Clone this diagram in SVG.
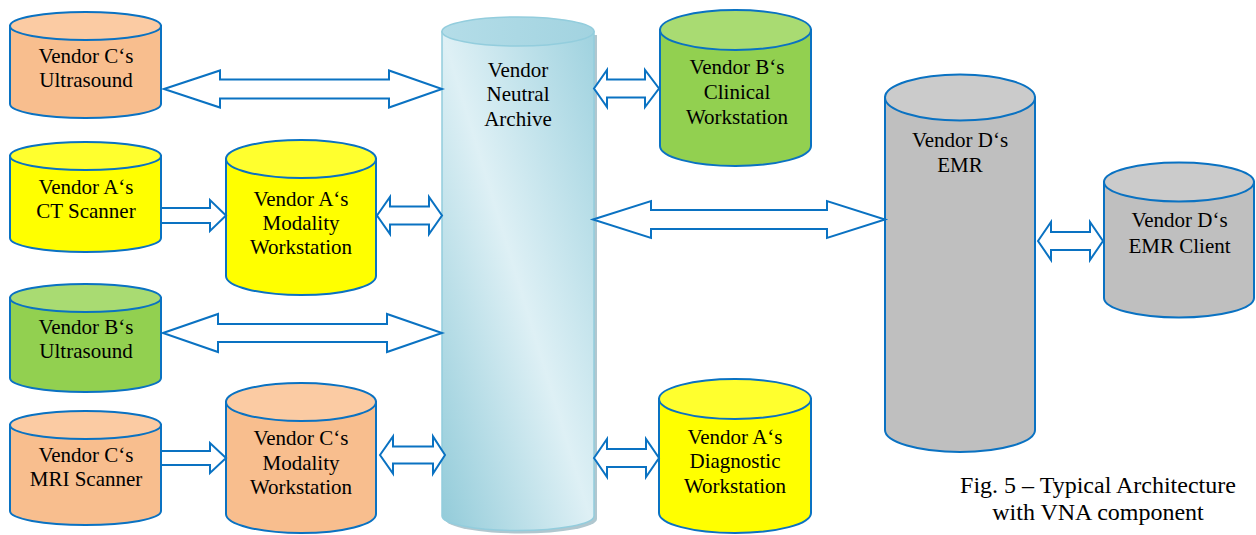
<svg xmlns="http://www.w3.org/2000/svg" width="1256" height="535" viewBox="0 0 1256 535" font-family="'Liberation Serif', 'Times New Roman', serif">
<defs>
<linearGradient id="vnaG" x1="1" y1="0" x2="0" y2="1">
<stop offset="0" stop-color="#9fd2df"/>
<stop offset="0.5" stop-color="#def0f5"/>
<stop offset="1" stop-color="#92cbd9"/>
</linearGradient>
<linearGradient id="vnaTop" x1="0" y1="0" x2="1" y2="0">
<stop offset="0" stop-color="#b4dde8"/>
<stop offset="1" stop-color="#a2d3e0"/>
</linearGradient>
<style>
.st{stroke:#0a72c2;stroke-width:2}
.orB{fill:#f8be8e}.orT{fill:#fbcba3}
.yeB{fill:#ffff00}.yeT{fill:#ffff2e}
.grB{fill:#92d050}.grT{fill:#a9db72}
.gyB{fill:#bfbfbf}.gyT{fill:#cbcbcb}
.arr{fill:#ffffff;stroke:#0a72c2;stroke-width:2;stroke-linejoin:miter}
.n{font-family:'Liberation Serif','Times New Roman',serif;font-size:21px;fill:#000000;text-anchor:middle}
.cap{font-family:'Liberation Serif','Times New Roman',serif;font-size:24px;fill:#000000;text-anchor:middle}
</style>
</defs>
<rect width="1256" height="535" fill="#ffffff"/>

<g id="vna">
<path d="M445 35 V519 A76 14.5 0 0 0 597 519 V35 Z" fill="#9cb9c3" opacity="0.8"/>
<path d="M442 31.5 V516 A76 14.5 0 0 0 594 516 V31.5 Z" fill="url(#vnaG)" stroke="#93cddd" stroke-width="1.5"/>
<ellipse cx="518" cy="31.5" rx="76" ry="14.5" fill="url(#vnaTop)" stroke="#93cddd" stroke-width="1.5"/>
<text class="n" x="518" y="77">Vendor</text>
<text class="n" x="518" y="101">Neutral</text>
<text class="n" x="518" y="126">Archive</text>
</g>

<g id="c-ultrasound">
<path class="st orB" d="M10 26 V104 A75.5 14 0 0 0 161 104 V26 Z"/>
<ellipse class="st orT" cx="85.5" cy="26" rx="75.5" ry="14"/>
<text class="n" x="86" y="63">Vendor C&#8216;s</text>
<text class="n" x="86" y="87">Ultrasound</text>
</g>

<g id="a-ct">
<path class="st yeB" d="M10 156 V238 A75.5 14 0 0 0 161 238 V156 Z"/>
<ellipse class="st yeT" cx="85.5" cy="156" rx="75.5" ry="14"/>
<text class="n" x="86" y="194">Vendor A&#8216;s</text>
<text class="n" x="86" y="218">CT Scanner</text>
</g>

<g id="a-modality">
<path class="st yeB" d="M226 159 V276 A75 19 0 0 0 376 276 V159 Z"/>
<ellipse class="st yeT" cx="301" cy="159" rx="75" ry="19"/>
<text class="n" x="301" y="206">Vendor A&#8216;s</text>
<text class="n" x="301" y="230">Modality</text>
<text class="n" x="301" y="254">Workstation</text>
</g>

<g id="b-ultrasound">
<path class="st grB" d="M10 298 V378 A75.5 14 0 0 0 161 378 V298 Z"/>
<ellipse class="st grT" cx="85.5" cy="298" rx="75.5" ry="14"/>
<text class="n" x="86" y="334">Vendor B&#8216;s</text>
<text class="n" x="86" y="358">Ultrasound</text>
</g>

<g id="c-mri">
<path class="st orB" d="M10 425 V511 A75.5 14 0 0 0 161 511 V425 Z"/>
<ellipse class="st orT" cx="85.5" cy="425" rx="75.5" ry="14"/>
<text class="n" x="86" y="462">Vendor C&#8216;s</text>
<text class="n" x="86" y="486">MRI Scanner</text>
</g>

<g id="c-modality">
<path class="st orB" d="M226 402 V514 A75 19 0 0 0 376 514 V402 Z"/>
<ellipse class="st orT" cx="301" cy="402" rx="75" ry="19"/>
<text class="n" x="301" y="445">Vendor C&#8216;s</text>
<text class="n" x="301" y="470">Modality</text>
<text class="n" x="301" y="494">Workstation</text>
</g>

<g id="b-clinical">
<path class="st grB" d="M660 30 V146 A75.5 20 0 0 0 811 146 V30 Z"/>
<ellipse class="st grT" cx="735.5" cy="30" rx="75.5" ry="20"/>
<text class="n" x="737" y="74">Vendor B&#8216;s</text>
<text class="n" x="737" y="99">Clinical</text>
<text class="n" x="737" y="124">Workstation</text>
</g>

<g id="a-diagnostic">
<path class="st yeB" d="M659 399 V513 A76 20 0 0 0 811 513 V399 Z"/>
<ellipse class="st yeT" cx="735" cy="399" rx="76" ry="20"/>
<text class="n" x="735" y="444">Vendor A&#8216;s</text>
<text class="n" x="735" y="468">Diagnostic</text>
<text class="n" x="735" y="493">Workstation</text>
</g>

<g id="d-emr">
<path class="st gyB" d="M885 97.5 V430 A75 22 0 0 0 1035 430 V97.5 Z"/>
<ellipse class="st gyT" cx="960" cy="97.5" rx="75" ry="23"/>
<text class="n" x="960" y="147">Vendor D&#8216;s</text>
<text class="n" x="960" y="172">EMR</text>
</g>

<g id="d-emr-client">
<path class="st gyB" d="M1104 182 V298 A75 19.5 0 0 0 1254 298 V182 Z"/>
<ellipse class="st gyT" cx="1179" cy="182" rx="75" ry="19.5"/>
<text class="n" x="1179.5" y="227">Vendor D&#8216;s</text>
<text class="n" x="1179.5" y="253">EMR Client</text>
</g>

<g id="connectors">
<polygon class="arr" points="164,89 220,70.5 220,79.5 389,79.5 389,70.5 442,89 389,107.5 389,98.5 220,98.5 220,107.5"/>
<polygon class="arr" points="161,208 210,208 210,200 226,215.5 210,231 210,223 161,223"/>
<polygon class="arr" points="377,215.5 390,197 390,206.5 429,206.5 429,197 442,215.5 429,234 429,224.5 390,224.5 390,234"/>
<polygon class="arr" points="163,333 218,314 218,324 387,324 387,314 442,333 387,352 387,342 218,342 218,352"/>
<polygon class="arr" points="161,451 210,451 210,443 226,458 210,473 210,465 161,465"/>
<polygon class="arr" points="380,455 393,436.5 393,446.5 433,446.5 433,436.5 445,455 433,473.5 433,463.5 393,463.5 393,473.5"/>
<polygon class="arr" points="594,88.5 607,70 607,79.5 645,79.5 645,70 659,88.5 645,107 645,97.5 607,97.5 607,107"/>
<polygon class="arr" points="593,219.5 651,201 651,210 827,210 827,201 885,219.5 827,238 827,229 651,229 651,238"/>
<polygon class="arr" points="1038,241 1051,222 1051,232 1090,232 1090,222 1103,241 1090,260 1090,250 1051,250 1051,260"/>
<polygon class="arr" points="594,458 607,439 607,449 646,449 646,439 659,458 646,477 646,467 607,467 607,477"/>
</g>

<g id="caption">
<text class="cap" x="1098" y="493">Fig. 5 &#8211; Typical Architecture</text>
<text class="cap" x="1098" y="520">with VNA component</text>
</g>
</svg>
